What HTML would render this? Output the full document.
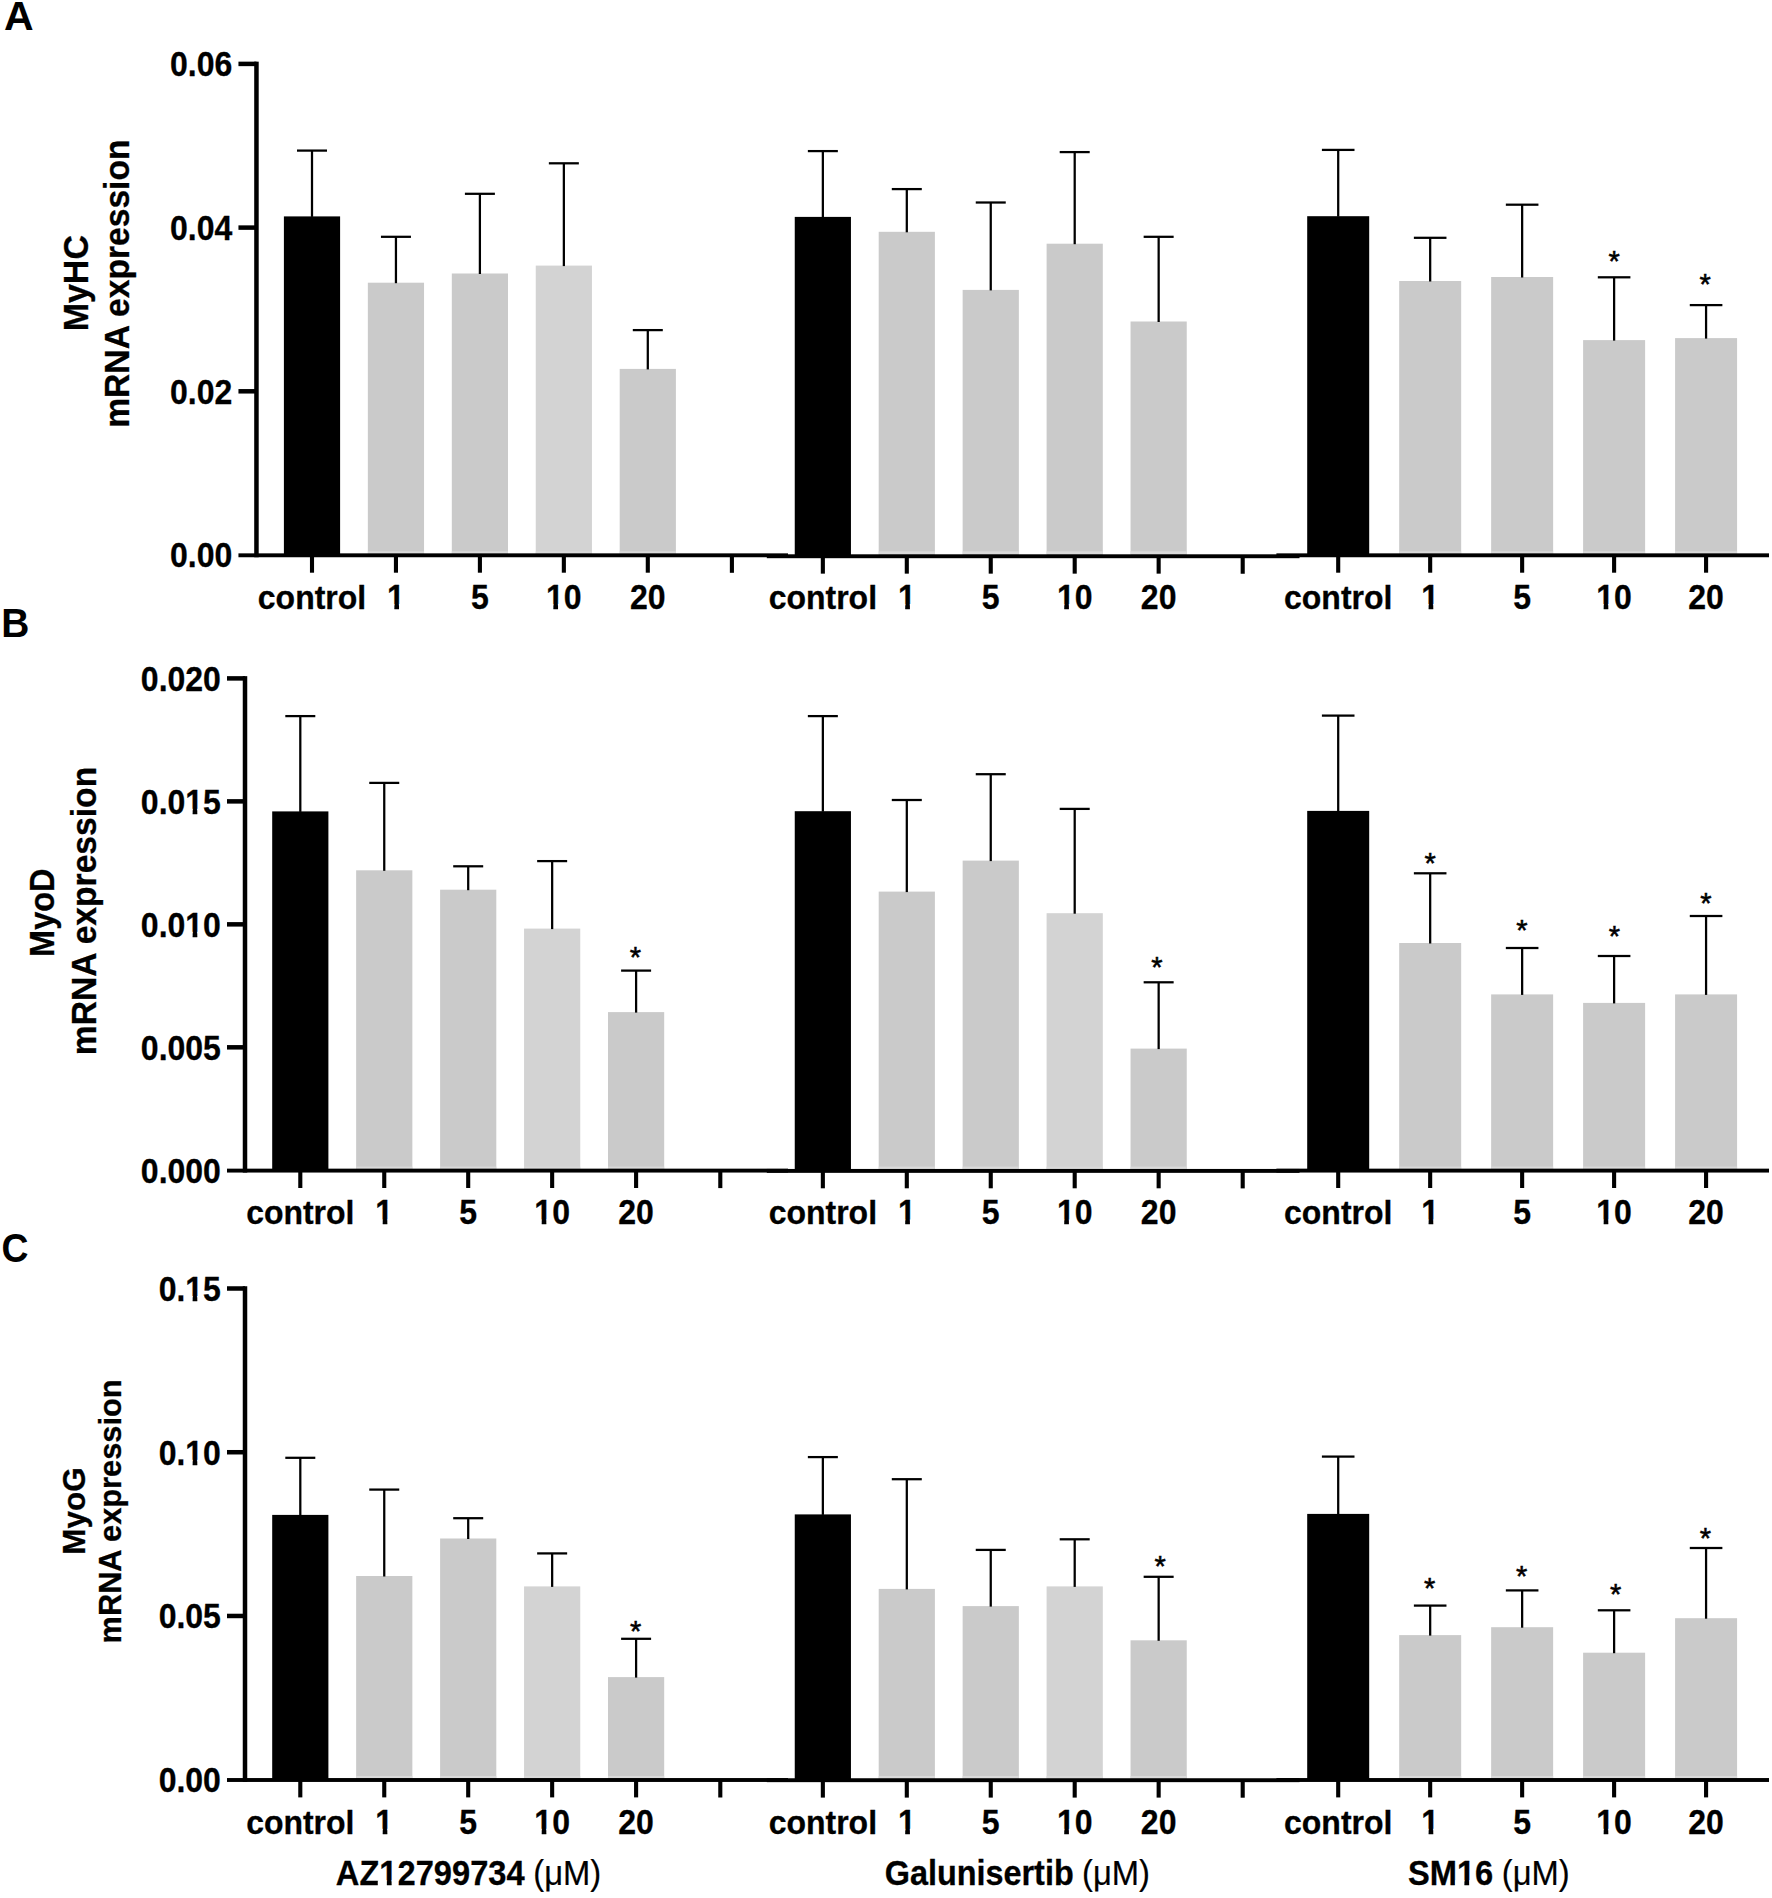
<!DOCTYPE html>
<html lang="en"><head><meta charset="utf-8"><title>Figure</title>
<style>html,body{margin:0;padding:0;background:#fff}svg{display:block}text{font-family:"Liberation Sans",Arial,Helvetica,sans-serif}</style>
</head><body>
<svg width="1772" height="1898" viewBox="0 0 1772 1898" font-family="Liberation Sans, Arial, Helvetica, sans-serif" fill="#000">
<rect width="1772" height="1898" fill="#fff"/>
<rect x="283.90" y="216.40" width="56.20" height="338.60" fill="#000"/>
<rect x="310.88" y="150.60" width="2.25" height="66.30" fill="#000"/>
<rect x="297.00" y="149.47" width="30.00" height="2.25" fill="#000"/>
<rect x="367.85" y="282.70" width="56.20" height="272.30" fill="#cacaca"/>
<rect x="367.85" y="551.30" width="56.20" height="2.70" fill="#dadada"/>
<rect x="394.82" y="236.80" width="2.25" height="46.40" fill="#000"/>
<rect x="380.95" y="235.68" width="30.00" height="2.25" fill="#000"/>
<rect x="451.80" y="273.50" width="56.20" height="281.50" fill="#cacaca"/>
<rect x="451.80" y="551.30" width="56.20" height="2.70" fill="#dadada"/>
<rect x="478.77" y="193.80" width="2.25" height="80.20" fill="#000"/>
<rect x="464.90" y="192.68" width="30.00" height="2.25" fill="#000"/>
<rect x="535.75" y="265.60" width="56.20" height="289.40" fill="#d3d3d3"/>
<rect x="535.75" y="551.30" width="56.20" height="2.70" fill="#dadada"/>
<rect x="562.73" y="163.30" width="2.25" height="102.80" fill="#000"/>
<rect x="548.85" y="162.18" width="30.00" height="2.25" fill="#000"/>
<rect x="619.70" y="368.90" width="56.20" height="186.10" fill="#cacaca"/>
<rect x="619.70" y="551.30" width="56.20" height="2.70" fill="#dadada"/>
<rect x="646.67" y="330.10" width="2.25" height="39.30" fill="#000"/>
<rect x="632.80" y="328.98" width="30.00" height="2.25" fill="#000"/>
<rect x="794.75" y="216.90" width="56.20" height="338.10" fill="#000"/>
<rect x="821.73" y="151.10" width="2.25" height="66.30" fill="#000"/>
<rect x="807.85" y="149.97" width="30.00" height="2.25" fill="#000"/>
<rect x="878.70" y="231.80" width="56.20" height="323.20" fill="#cacaca"/>
<rect x="878.70" y="551.30" width="56.20" height="2.70" fill="#dadada"/>
<rect x="905.68" y="189.10" width="2.25" height="43.20" fill="#000"/>
<rect x="891.80" y="187.97" width="30.00" height="2.25" fill="#000"/>
<rect x="962.65" y="289.90" width="56.20" height="265.10" fill="#cacaca"/>
<rect x="962.65" y="551.30" width="56.20" height="2.70" fill="#dadada"/>
<rect x="989.62" y="202.50" width="2.25" height="87.90" fill="#000"/>
<rect x="975.75" y="201.38" width="30.00" height="2.25" fill="#000"/>
<rect x="1046.60" y="243.70" width="56.20" height="311.30" fill="#cacaca"/>
<rect x="1046.60" y="551.30" width="56.20" height="2.70" fill="#dadada"/>
<rect x="1073.58" y="152.10" width="2.25" height="92.10" fill="#000"/>
<rect x="1059.70" y="150.97" width="30.00" height="2.25" fill="#000"/>
<rect x="1130.55" y="321.50" width="56.20" height="233.50" fill="#cacaca"/>
<rect x="1130.55" y="551.30" width="56.20" height="2.70" fill="#dadada"/>
<rect x="1157.53" y="236.80" width="2.25" height="85.20" fill="#000"/>
<rect x="1143.65" y="235.68" width="30.00" height="2.25" fill="#000"/>
<rect x="1307.20" y="216.20" width="62.00" height="338.80" fill="#000"/>
<rect x="1337.08" y="149.90" width="2.25" height="66.80" fill="#000"/>
<rect x="1321.90" y="148.78" width="32.60" height="2.25" fill="#000"/>
<rect x="1399.17" y="281.00" width="62.00" height="274.00" fill="#cacaca"/>
<rect x="1399.17" y="551.30" width="62.00" height="2.70" fill="#dadada"/>
<rect x="1429.05" y="237.80" width="2.25" height="43.70" fill="#000"/>
<rect x="1413.87" y="236.68" width="32.60" height="2.25" fill="#000"/>
<rect x="1491.14" y="277.00" width="62.00" height="278.00" fill="#cacaca"/>
<rect x="1491.14" y="551.30" width="62.00" height="2.70" fill="#dadada"/>
<rect x="1521.02" y="204.70" width="2.25" height="72.80" fill="#000"/>
<rect x="1505.84" y="203.57" width="32.60" height="2.25" fill="#000"/>
<rect x="1583.11" y="340.10" width="62.00" height="214.90" fill="#cacaca"/>
<rect x="1583.11" y="551.30" width="62.00" height="2.70" fill="#dadada"/>
<rect x="1612.99" y="277.30" width="2.25" height="63.30" fill="#000"/>
<rect x="1597.81" y="276.18" width="32.60" height="2.25" fill="#000"/>
<g transform="translate(1614.20,270.86) scale(1.0000,1)"><text font-size="29.0" font-weight="normal" text-anchor="middle" stroke="#000" stroke-width="0.55" >*</text></g>
<rect x="1675.08" y="338.10" width="62.00" height="216.90" fill="#cacaca"/>
<rect x="1675.08" y="551.30" width="62.00" height="2.70" fill="#dadada"/>
<rect x="1704.95" y="305.10" width="2.25" height="33.50" fill="#000"/>
<rect x="1689.78" y="303.98" width="32.60" height="2.25" fill="#000"/>
<g transform="translate(1705.10,293.76) scale(1.0000,1)"><text font-size="29.0" font-weight="normal" text-anchor="middle" stroke="#000" stroke-width="0.55" >*</text></g>
<rect x="254.20" y="61.65" width="4.50" height="495.60" fill="#000"/>
<rect x="238.45" y="61.65" width="18.00" height="4.50" fill="#000"/>
<g transform="translate(232.35,76.20) scale(0.9330,1)"><text font-size="34.3" font-weight="bold" text-anchor="end" stroke="#000" stroke-width="0.3" >0.06</text></g>
<rect x="238.45" y="225.35" width="18.00" height="4.50" fill="#000"/>
<g transform="translate(232.35,239.90) scale(0.9330,1)"><text font-size="34.3" font-weight="bold" text-anchor="end" stroke="#000" stroke-width="0.3" >0.04</text></g>
<rect x="238.45" y="389.05" width="18.00" height="4.50" fill="#000"/>
<g transform="translate(232.35,403.60) scale(0.9330,1)"><text font-size="34.3" font-weight="bold" text-anchor="end" stroke="#000" stroke-width="0.3" >0.02</text></g>
<g transform="translate(232.35,567.30) scale(0.9330,1)"><text font-size="34.3" font-weight="bold" text-anchor="end" stroke="#000" stroke-width="0.3" >0.00</text></g>
<rect x="238.45" y="553.35" width="549.55" height="3.90" fill="#000"/>
<rect x="766.80" y="554.30" width="532.70" height="3.90" fill="#000"/>
<rect x="1276.40" y="553.35" width="492.60" height="3.90" fill="#000"/>
<rect x="309.95" y="555.00" width="4.10" height="17.70" fill="#000"/>
<g transform="translate(312.00,609.00) scale(0.9870,1)"><text font-size="32.4" font-weight="bold" text-anchor="middle" stroke="#000" stroke-width="0.3" >control</text></g>
<rect x="393.90" y="555.00" width="4.10" height="17.70" fill="#000"/>
<g transform="translate(395.95,609.00) scale(0.9330,1)"><clipPath id="c1"><path clip-rule="evenodd" d="M-19.54,-41.16H19.54V17.15H-19.54ZM-11.21,-4.90H-1.67V3.00H-11.21ZM3.31,-4.90H10.48V3.00H3.31Z"/></clipPath><text clip-path="url(#c1)" font-size="34.3" font-weight="bold" text-anchor="middle" stroke="#000" stroke-width="0.3" >1</text></g>
<rect x="477.85" y="555.00" width="4.10" height="17.70" fill="#000"/>
<g transform="translate(479.90,609.00) scale(0.9330,1)"><text font-size="34.3" font-weight="bold" text-anchor="middle" stroke="#000" stroke-width="0.3" >5</text></g>
<rect x="561.80" y="555.00" width="4.10" height="17.70" fill="#000"/>
<g transform="translate(563.85,609.00) scale(0.9330,1)"><clipPath id="c2"><path clip-rule="evenodd" d="M-29.08,-41.16H29.08V17.15H-29.08ZM-20.75,-4.90H-11.20V3.00H-20.75ZM-6.23,-4.90H0.94V3.00H-6.23Z"/></clipPath><text clip-path="url(#c2)" font-size="34.3" font-weight="bold" text-anchor="middle" stroke="#000" stroke-width="0.3" >10</text></g>
<rect x="645.75" y="555.00" width="4.10" height="17.70" fill="#000"/>
<g transform="translate(647.80,609.00) scale(0.9330,1)"><text font-size="34.3" font-weight="bold" text-anchor="middle" stroke="#000" stroke-width="0.3" >20</text></g>
<rect x="820.80" y="555.00" width="4.10" height="18.65" fill="#000"/>
<g transform="translate(822.85,609.00) scale(0.9870,1)"><text font-size="32.4" font-weight="bold" text-anchor="middle" stroke="#000" stroke-width="0.3" >control</text></g>
<rect x="904.75" y="555.00" width="4.10" height="18.65" fill="#000"/>
<g transform="translate(906.80,609.00) scale(0.9330,1)"><clipPath id="c3"><path clip-rule="evenodd" d="M-19.54,-41.16H19.54V17.15H-19.54ZM-11.21,-4.90H-1.67V3.00H-11.21ZM3.31,-4.90H10.48V3.00H3.31Z"/></clipPath><text clip-path="url(#c3)" font-size="34.3" font-weight="bold" text-anchor="middle" stroke="#000" stroke-width="0.3" >1</text></g>
<rect x="988.70" y="555.00" width="4.10" height="18.65" fill="#000"/>
<g transform="translate(990.75,609.00) scale(0.9330,1)"><text font-size="34.3" font-weight="bold" text-anchor="middle" stroke="#000" stroke-width="0.3" >5</text></g>
<rect x="1072.65" y="555.00" width="4.10" height="18.65" fill="#000"/>
<g transform="translate(1074.70,609.00) scale(0.9330,1)"><clipPath id="c4"><path clip-rule="evenodd" d="M-29.08,-41.16H29.08V17.15H-29.08ZM-20.75,-4.90H-11.20V3.00H-20.75ZM-6.23,-4.90H0.94V3.00H-6.23Z"/></clipPath><text clip-path="url(#c4)" font-size="34.3" font-weight="bold" text-anchor="middle" stroke="#000" stroke-width="0.3" >10</text></g>
<rect x="1156.60" y="555.00" width="4.10" height="18.65" fill="#000"/>
<g transform="translate(1158.65,609.00) scale(0.9330,1)"><text font-size="34.3" font-weight="bold" text-anchor="middle" stroke="#000" stroke-width="0.3" >20</text></g>
<rect x="1336.15" y="555.00" width="4.10" height="17.70" fill="#000"/>
<g transform="translate(1338.20,609.00) scale(0.9870,1)"><text font-size="32.4" font-weight="bold" text-anchor="middle" stroke="#000" stroke-width="0.3" >control</text></g>
<rect x="1428.12" y="555.00" width="4.10" height="17.70" fill="#000"/>
<g transform="translate(1430.17,609.00) scale(0.9330,1)"><clipPath id="c5"><path clip-rule="evenodd" d="M-19.54,-41.16H19.54V17.15H-19.54ZM-11.21,-4.90H-1.67V3.00H-11.21ZM3.31,-4.90H10.48V3.00H3.31Z"/></clipPath><text clip-path="url(#c5)" font-size="34.3" font-weight="bold" text-anchor="middle" stroke="#000" stroke-width="0.3" >1</text></g>
<rect x="1520.09" y="555.00" width="4.10" height="17.70" fill="#000"/>
<g transform="translate(1522.14,609.00) scale(0.9330,1)"><text font-size="34.3" font-weight="bold" text-anchor="middle" stroke="#000" stroke-width="0.3" >5</text></g>
<rect x="1612.06" y="555.00" width="4.10" height="17.70" fill="#000"/>
<g transform="translate(1614.11,609.00) scale(0.9330,1)"><clipPath id="c6"><path clip-rule="evenodd" d="M-29.08,-41.16H29.08V17.15H-29.08ZM-20.75,-4.90H-11.20V3.00H-20.75ZM-6.23,-4.90H0.94V3.00H-6.23Z"/></clipPath><text clip-path="url(#c6)" font-size="34.3" font-weight="bold" text-anchor="middle" stroke="#000" stroke-width="0.3" >10</text></g>
<rect x="1704.03" y="555.00" width="4.10" height="17.70" fill="#000"/>
<g transform="translate(1706.08,609.00) scale(0.9330,1)"><text font-size="34.3" font-weight="bold" text-anchor="middle" stroke="#000" stroke-width="0.3" >20</text></g>
<rect x="729.85" y="555.00" width="4.10" height="17.80" fill="#000"/>
<rect x="1240.65" y="555.00" width="4.10" height="18.75" fill="#000"/>
<g transform="translate(4.00,30.40) scale(1.0000,1)"><text font-size="41" font-weight="bold" text-anchor="start" >A</text></g>
<text transform="translate(87.6,283.2) rotate(-90) scale(0.9700,1)" font-size="35.0" font-weight="bold" text-anchor="middle" stroke="#000" stroke-width="0.3">MyHC</text>
<text transform="translate(129.0,283.65) rotate(-90) scale(0.9609,1)" font-size="35.0" font-weight="bold" text-anchor="middle" stroke="#000" stroke-width="0.3">mRNA expression</text>
<rect x="272.20" y="811.40" width="56.20" height="358.90" fill="#000"/>
<rect x="299.18" y="716.10" width="2.25" height="95.80" fill="#000"/>
<rect x="285.30" y="714.98" width="30.00" height="2.25" fill="#000"/>
<rect x="356.15" y="870.30" width="56.20" height="300.00" fill="#cacaca"/>
<rect x="356.15" y="1166.60" width="56.20" height="2.70" fill="#dadada"/>
<rect x="383.12" y="782.90" width="2.25" height="87.90" fill="#000"/>
<rect x="369.25" y="781.77" width="30.00" height="2.25" fill="#000"/>
<rect x="440.10" y="889.70" width="56.20" height="280.60" fill="#cacaca"/>
<rect x="440.10" y="1166.60" width="56.20" height="2.70" fill="#dadada"/>
<rect x="467.08" y="866.30" width="2.25" height="23.90" fill="#000"/>
<rect x="453.20" y="865.17" width="30.00" height="2.25" fill="#000"/>
<rect x="524.05" y="928.60" width="56.20" height="241.70" fill="#d3d3d3"/>
<rect x="524.05" y="1166.60" width="56.20" height="2.70" fill="#dadada"/>
<rect x="551.03" y="861.10" width="2.25" height="68.00" fill="#000"/>
<rect x="537.15" y="859.98" width="30.00" height="2.25" fill="#000"/>
<rect x="608.00" y="1012.10" width="56.20" height="158.20" fill="#cacaca"/>
<rect x="608.00" y="1166.60" width="56.20" height="2.70" fill="#dadada"/>
<rect x="634.98" y="970.60" width="2.25" height="42.00" fill="#000"/>
<rect x="621.10" y="969.48" width="30.00" height="2.25" fill="#000"/>
<g transform="translate(635.40,966.56) scale(1.0000,1)"><text font-size="29.0" font-weight="normal" text-anchor="middle" stroke="#000" stroke-width="0.55" >*</text></g>
<rect x="794.75" y="811.20" width="56.20" height="359.10" fill="#000"/>
<rect x="821.73" y="716.10" width="2.25" height="95.60" fill="#000"/>
<rect x="807.85" y="714.98" width="30.00" height="2.25" fill="#000"/>
<rect x="878.70" y="891.60" width="56.20" height="278.70" fill="#cacaca"/>
<rect x="878.70" y="1166.60" width="56.20" height="2.70" fill="#dadada"/>
<rect x="905.68" y="800.00" width="2.25" height="92.10" fill="#000"/>
<rect x="891.80" y="798.88" width="30.00" height="2.25" fill="#000"/>
<rect x="962.65" y="860.60" width="56.20" height="309.70" fill="#cacaca"/>
<rect x="962.65" y="1166.60" width="56.20" height="2.70" fill="#dadada"/>
<rect x="989.62" y="774.20" width="2.25" height="86.90" fill="#000"/>
<rect x="975.75" y="773.08" width="30.00" height="2.25" fill="#000"/>
<rect x="1046.60" y="913.20" width="56.20" height="257.10" fill="#d3d3d3"/>
<rect x="1046.60" y="1166.60" width="56.20" height="2.70" fill="#dadada"/>
<rect x="1073.58" y="808.90" width="2.25" height="104.80" fill="#000"/>
<rect x="1059.70" y="807.77" width="30.00" height="2.25" fill="#000"/>
<rect x="1130.55" y="1048.60" width="56.20" height="121.70" fill="#cacaca"/>
<rect x="1130.55" y="1166.60" width="56.20" height="2.70" fill="#dadada"/>
<rect x="1157.53" y="982.30" width="2.25" height="66.80" fill="#000"/>
<rect x="1143.65" y="981.17" width="30.00" height="2.25" fill="#000"/>
<g transform="translate(1156.90,977.06) scale(1.0000,1)"><text font-size="29.0" font-weight="normal" text-anchor="middle" stroke="#000" stroke-width="0.55" >*</text></g>
<rect x="1307.20" y="810.90" width="62.00" height="359.40" fill="#000"/>
<rect x="1337.08" y="715.60" width="2.25" height="95.80" fill="#000"/>
<rect x="1321.90" y="714.48" width="32.60" height="2.25" fill="#000"/>
<rect x="1399.17" y="943.00" width="62.00" height="227.30" fill="#cacaca"/>
<rect x="1399.17" y="1166.60" width="62.00" height="2.70" fill="#dadada"/>
<rect x="1429.05" y="873.30" width="2.25" height="70.20" fill="#000"/>
<rect x="1413.87" y="872.17" width="32.60" height="2.25" fill="#000"/>
<g transform="translate(1430.10,872.86) scale(1.0000,1)"><text font-size="29.0" font-weight="normal" text-anchor="middle" stroke="#000" stroke-width="0.55" >*</text></g>
<rect x="1491.14" y="994.40" width="62.00" height="175.90" fill="#cacaca"/>
<rect x="1491.14" y="1166.60" width="62.00" height="2.70" fill="#dadada"/>
<rect x="1521.02" y="948.00" width="2.25" height="46.90" fill="#000"/>
<rect x="1505.84" y="946.88" width="32.60" height="2.25" fill="#000"/>
<g transform="translate(1522.00,939.76) scale(1.0000,1)"><text font-size="29.0" font-weight="normal" text-anchor="middle" stroke="#000" stroke-width="0.55" >*</text></g>
<rect x="1583.11" y="1002.90" width="62.00" height="167.40" fill="#cacaca"/>
<rect x="1583.11" y="1166.60" width="62.00" height="2.70" fill="#dadada"/>
<rect x="1612.99" y="956.00" width="2.25" height="47.40" fill="#000"/>
<rect x="1597.81" y="954.88" width="32.60" height="2.25" fill="#000"/>
<g transform="translate(1614.30,945.96) scale(1.0000,1)"><text font-size="29.0" font-weight="normal" text-anchor="middle" stroke="#000" stroke-width="0.55" >*</text></g>
<rect x="1675.08" y="994.40" width="62.00" height="175.90" fill="#cacaca"/>
<rect x="1675.08" y="1166.60" width="62.00" height="2.70" fill="#dadada"/>
<rect x="1704.95" y="916.00" width="2.25" height="78.90" fill="#000"/>
<rect x="1689.78" y="914.88" width="32.60" height="2.25" fill="#000"/>
<g transform="translate(1705.80,912.76) scale(1.0000,1)"><text font-size="29.0" font-weight="normal" text-anchor="middle" stroke="#000" stroke-width="0.55" >*</text></g>
<rect x="242.75" y="676.15" width="4.50" height="496.40" fill="#000"/>
<rect x="227.00" y="676.15" width="18.00" height="4.50" fill="#000"/>
<g transform="translate(220.90,690.70) scale(0.9330,1)"><text font-size="34.3" font-weight="bold" text-anchor="end" stroke="#000" stroke-width="0.3" >0.020</text></g>
<rect x="227.00" y="799.12" width="18.00" height="4.50" fill="#000"/>
<g transform="translate(220.90,813.67) scale(0.9330,1)"><clipPath id="c7"><path clip-rule="evenodd" d="M-95.83,-41.16H10.00V17.15H-95.83ZM-39.83,-4.90H-30.28V3.00H-39.83ZM-25.31,-4.90H-18.14V3.00H-25.31Z"/></clipPath><text clip-path="url(#c7)" font-size="34.3" font-weight="bold" text-anchor="end" stroke="#000" stroke-width="0.3" >0.015</text></g>
<rect x="227.00" y="922.10" width="18.00" height="4.50" fill="#000"/>
<g transform="translate(220.90,936.65) scale(0.9330,1)"><clipPath id="c8"><path clip-rule="evenodd" d="M-95.83,-41.16H10.00V17.15H-95.83ZM-39.83,-4.90H-30.28V3.00H-39.83ZM-25.31,-4.90H-18.14V3.00H-25.31Z"/></clipPath><text clip-path="url(#c8)" font-size="34.3" font-weight="bold" text-anchor="end" stroke="#000" stroke-width="0.3" >0.010</text></g>
<rect x="227.00" y="1045.07" width="18.00" height="4.50" fill="#000"/>
<g transform="translate(220.90,1059.62) scale(0.9330,1)"><text font-size="34.3" font-weight="bold" text-anchor="end" stroke="#000" stroke-width="0.3" >0.005</text></g>
<g transform="translate(220.90,1182.60) scale(0.9330,1)"><text font-size="34.3" font-weight="bold" text-anchor="end" stroke="#000" stroke-width="0.3" >0.000</text></g>
<rect x="227.00" y="1168.65" width="561.00" height="3.90" fill="#000"/>
<rect x="766.80" y="1168.95" width="532.70" height="3.90" fill="#000"/>
<rect x="1276.40" y="1168.65" width="492.60" height="3.90" fill="#000"/>
<rect x="298.25" y="1170.30" width="4.10" height="17.70" fill="#000"/>
<g transform="translate(300.30,1224.30) scale(0.9870,1)"><text font-size="32.4" font-weight="bold" text-anchor="middle" stroke="#000" stroke-width="0.3" >control</text></g>
<rect x="382.20" y="1170.30" width="4.10" height="17.70" fill="#000"/>
<g transform="translate(384.25,1224.30) scale(0.9330,1)"><clipPath id="c9"><path clip-rule="evenodd" d="M-19.54,-41.16H19.54V17.15H-19.54ZM-11.21,-4.90H-1.67V3.00H-11.21ZM3.31,-4.90H10.48V3.00H3.31Z"/></clipPath><text clip-path="url(#c9)" font-size="34.3" font-weight="bold" text-anchor="middle" stroke="#000" stroke-width="0.3" >1</text></g>
<rect x="466.15" y="1170.30" width="4.10" height="17.70" fill="#000"/>
<g transform="translate(468.20,1224.30) scale(0.9330,1)"><text font-size="34.3" font-weight="bold" text-anchor="middle" stroke="#000" stroke-width="0.3" >5</text></g>
<rect x="550.10" y="1170.30" width="4.10" height="17.70" fill="#000"/>
<g transform="translate(552.15,1224.30) scale(0.9330,1)"><clipPath id="c10"><path clip-rule="evenodd" d="M-29.08,-41.16H29.08V17.15H-29.08ZM-20.75,-4.90H-11.20V3.00H-20.75ZM-6.23,-4.90H0.94V3.00H-6.23Z"/></clipPath><text clip-path="url(#c10)" font-size="34.3" font-weight="bold" text-anchor="middle" stroke="#000" stroke-width="0.3" >10</text></g>
<rect x="634.05" y="1170.30" width="4.10" height="17.70" fill="#000"/>
<g transform="translate(636.10,1224.30) scale(0.9330,1)"><text font-size="34.3" font-weight="bold" text-anchor="middle" stroke="#000" stroke-width="0.3" >20</text></g>
<rect x="820.80" y="1170.30" width="4.10" height="18.00" fill="#000"/>
<g transform="translate(822.85,1224.30) scale(0.9870,1)"><text font-size="32.4" font-weight="bold" text-anchor="middle" stroke="#000" stroke-width="0.3" >control</text></g>
<rect x="904.75" y="1170.30" width="4.10" height="18.00" fill="#000"/>
<g transform="translate(906.80,1224.30) scale(0.9330,1)"><clipPath id="c11"><path clip-rule="evenodd" d="M-19.54,-41.16H19.54V17.15H-19.54ZM-11.21,-4.90H-1.67V3.00H-11.21ZM3.31,-4.90H10.48V3.00H3.31Z"/></clipPath><text clip-path="url(#c11)" font-size="34.3" font-weight="bold" text-anchor="middle" stroke="#000" stroke-width="0.3" >1</text></g>
<rect x="988.70" y="1170.30" width="4.10" height="18.00" fill="#000"/>
<g transform="translate(990.75,1224.30) scale(0.9330,1)"><text font-size="34.3" font-weight="bold" text-anchor="middle" stroke="#000" stroke-width="0.3" >5</text></g>
<rect x="1072.65" y="1170.30" width="4.10" height="18.00" fill="#000"/>
<g transform="translate(1074.70,1224.30) scale(0.9330,1)"><clipPath id="c12"><path clip-rule="evenodd" d="M-29.08,-41.16H29.08V17.15H-29.08ZM-20.75,-4.90H-11.20V3.00H-20.75ZM-6.23,-4.90H0.94V3.00H-6.23Z"/></clipPath><text clip-path="url(#c12)" font-size="34.3" font-weight="bold" text-anchor="middle" stroke="#000" stroke-width="0.3" >10</text></g>
<rect x="1156.60" y="1170.30" width="4.10" height="18.00" fill="#000"/>
<g transform="translate(1158.65,1224.30) scale(0.9330,1)"><text font-size="34.3" font-weight="bold" text-anchor="middle" stroke="#000" stroke-width="0.3" >20</text></g>
<rect x="1336.15" y="1170.30" width="4.10" height="17.70" fill="#000"/>
<g transform="translate(1338.20,1224.30) scale(0.9870,1)"><text font-size="32.4" font-weight="bold" text-anchor="middle" stroke="#000" stroke-width="0.3" >control</text></g>
<rect x="1428.12" y="1170.30" width="4.10" height="17.70" fill="#000"/>
<g transform="translate(1430.17,1224.30) scale(0.9330,1)"><clipPath id="c13"><path clip-rule="evenodd" d="M-19.54,-41.16H19.54V17.15H-19.54ZM-11.21,-4.90H-1.67V3.00H-11.21ZM3.31,-4.90H10.48V3.00H3.31Z"/></clipPath><text clip-path="url(#c13)" font-size="34.3" font-weight="bold" text-anchor="middle" stroke="#000" stroke-width="0.3" >1</text></g>
<rect x="1520.09" y="1170.30" width="4.10" height="17.70" fill="#000"/>
<g transform="translate(1522.14,1224.30) scale(0.9330,1)"><text font-size="34.3" font-weight="bold" text-anchor="middle" stroke="#000" stroke-width="0.3" >5</text></g>
<rect x="1612.06" y="1170.30" width="4.10" height="17.70" fill="#000"/>
<g transform="translate(1614.11,1224.30) scale(0.9330,1)"><clipPath id="c14"><path clip-rule="evenodd" d="M-29.08,-41.16H29.08V17.15H-29.08ZM-20.75,-4.90H-11.20V3.00H-20.75ZM-6.23,-4.90H0.94V3.00H-6.23Z"/></clipPath><text clip-path="url(#c14)" font-size="34.3" font-weight="bold" text-anchor="middle" stroke="#000" stroke-width="0.3" >10</text></g>
<rect x="1704.03" y="1170.30" width="4.10" height="17.70" fill="#000"/>
<g transform="translate(1706.08,1224.30) scale(0.9330,1)"><text font-size="34.3" font-weight="bold" text-anchor="middle" stroke="#000" stroke-width="0.3" >20</text></g>
<rect x="718.25" y="1170.30" width="4.10" height="17.80" fill="#000"/>
<rect x="1240.65" y="1170.30" width="4.10" height="18.10" fill="#000"/>
<g transform="translate(1.30,636.60) scale(0.9500,1)"><text font-size="41" font-weight="bold" text-anchor="start" >B</text></g>
<text transform="translate(54.1,912.7) rotate(-90) scale(0.9289,1)" font-size="35.0" font-weight="bold" text-anchor="middle" stroke="#000" stroke-width="0.3">MyoD</text>
<text transform="translate(95.5,911.0) rotate(-90) scale(0.9609,1)" font-size="35.0" font-weight="bold" text-anchor="middle" stroke="#000" stroke-width="0.3">mRNA expression</text>
<rect x="272.20" y="1514.90" width="56.20" height="264.80" fill="#000"/>
<rect x="299.18" y="1457.80" width="2.25" height="57.60" fill="#000"/>
<rect x="285.30" y="1456.67" width="30.00" height="2.25" fill="#000"/>
<rect x="356.15" y="1576.00" width="56.20" height="203.70" fill="#cacaca"/>
<rect x="356.15" y="1776.00" width="56.20" height="2.70" fill="#dadada"/>
<rect x="383.12" y="1489.60" width="2.25" height="86.90" fill="#000"/>
<rect x="369.25" y="1488.47" width="30.00" height="2.25" fill="#000"/>
<rect x="440.10" y="1538.50" width="56.20" height="241.20" fill="#cacaca"/>
<rect x="440.10" y="1776.00" width="56.20" height="2.70" fill="#dadada"/>
<rect x="467.08" y="1518.20" width="2.25" height="20.80" fill="#000"/>
<rect x="453.20" y="1517.08" width="30.00" height="2.25" fill="#000"/>
<rect x="524.05" y="1586.40" width="56.20" height="193.30" fill="#d3d3d3"/>
<rect x="524.05" y="1776.00" width="56.20" height="2.70" fill="#dadada"/>
<rect x="551.03" y="1553.40" width="2.25" height="33.50" fill="#000"/>
<rect x="537.15" y="1552.28" width="30.00" height="2.25" fill="#000"/>
<rect x="608.00" y="1677.10" width="56.20" height="102.60" fill="#cacaca"/>
<rect x="608.00" y="1776.00" width="56.20" height="2.70" fill="#dadada"/>
<rect x="634.98" y="1638.80" width="2.25" height="38.80" fill="#000"/>
<rect x="621.10" y="1637.67" width="30.00" height="2.25" fill="#000"/>
<g transform="translate(635.70,1640.66) scale(1.0000,1)"><text font-size="29.0" font-weight="normal" text-anchor="middle" stroke="#000" stroke-width="0.55" >*</text></g>
<rect x="794.75" y="1514.40" width="56.20" height="265.30" fill="#000"/>
<rect x="821.73" y="1457.10" width="2.25" height="57.80" fill="#000"/>
<rect x="807.85" y="1455.97" width="30.00" height="2.25" fill="#000"/>
<rect x="878.70" y="1588.90" width="56.20" height="190.80" fill="#cacaca"/>
<rect x="878.70" y="1776.00" width="56.20" height="2.70" fill="#dadada"/>
<rect x="905.68" y="1479.20" width="2.25" height="110.20" fill="#000"/>
<rect x="891.80" y="1478.08" width="30.00" height="2.25" fill="#000"/>
<rect x="962.65" y="1606.10" width="56.20" height="173.60" fill="#cacaca"/>
<rect x="962.65" y="1776.00" width="56.20" height="2.70" fill="#dadada"/>
<rect x="989.62" y="1549.90" width="2.25" height="56.70" fill="#000"/>
<rect x="975.75" y="1548.78" width="30.00" height="2.25" fill="#000"/>
<rect x="1046.60" y="1586.40" width="56.20" height="193.30" fill="#d3d3d3"/>
<rect x="1046.60" y="1776.00" width="56.20" height="2.70" fill="#dadada"/>
<rect x="1073.58" y="1539.30" width="2.25" height="47.60" fill="#000"/>
<rect x="1059.70" y="1538.17" width="30.00" height="2.25" fill="#000"/>
<rect x="1130.55" y="1640.30" width="56.20" height="139.40" fill="#cacaca"/>
<rect x="1130.55" y="1776.00" width="56.20" height="2.70" fill="#dadada"/>
<rect x="1157.53" y="1576.80" width="2.25" height="64.00" fill="#000"/>
<rect x="1143.65" y="1575.67" width="30.00" height="2.25" fill="#000"/>
<g transform="translate(1160.20,1575.91) scale(1.0000,1)"><text font-size="29.0" font-weight="normal" text-anchor="middle" stroke="#000" stroke-width="0.55" >*</text></g>
<rect x="1307.20" y="1513.90" width="62.00" height="265.80" fill="#000"/>
<rect x="1337.08" y="1456.60" width="2.25" height="57.80" fill="#000"/>
<rect x="1321.90" y="1455.47" width="32.60" height="2.25" fill="#000"/>
<rect x="1399.17" y="1635.10" width="62.00" height="144.60" fill="#cacaca"/>
<rect x="1399.17" y="1776.00" width="62.00" height="2.70" fill="#dadada"/>
<rect x="1429.05" y="1605.60" width="2.25" height="30.00" fill="#000"/>
<rect x="1413.87" y="1604.47" width="32.60" height="2.25" fill="#000"/>
<g transform="translate(1429.70,1598.16) scale(1.0000,1)"><text font-size="29.0" font-weight="normal" text-anchor="middle" stroke="#000" stroke-width="0.55" >*</text></g>
<rect x="1491.14" y="1627.20" width="62.00" height="152.50" fill="#cacaca"/>
<rect x="1491.14" y="1776.00" width="62.00" height="2.70" fill="#dadada"/>
<rect x="1521.02" y="1590.40" width="2.25" height="37.30" fill="#000"/>
<rect x="1505.84" y="1589.28" width="32.60" height="2.25" fill="#000"/>
<g transform="translate(1521.60,1586.06) scale(1.0000,1)"><text font-size="29.0" font-weight="normal" text-anchor="middle" stroke="#000" stroke-width="0.55" >*</text></g>
<rect x="1583.11" y="1652.70" width="62.00" height="127.00" fill="#cacaca"/>
<rect x="1583.11" y="1776.00" width="62.00" height="2.70" fill="#dadada"/>
<rect x="1612.99" y="1610.30" width="2.25" height="42.90" fill="#000"/>
<rect x="1597.81" y="1609.17" width="32.60" height="2.25" fill="#000"/>
<g transform="translate(1615.60,1603.76) scale(1.0000,1)"><text font-size="29.0" font-weight="normal" text-anchor="middle" stroke="#000" stroke-width="0.55" >*</text></g>
<rect x="1675.08" y="1618.20" width="62.00" height="161.50" fill="#cacaca"/>
<rect x="1675.08" y="1776.00" width="62.00" height="2.70" fill="#dadada"/>
<rect x="1704.95" y="1548.00" width="2.25" height="70.70" fill="#000"/>
<rect x="1689.78" y="1546.88" width="32.60" height="2.25" fill="#000"/>
<g transform="translate(1705.30,1548.36) scale(1.0000,1)"><text font-size="29.0" font-weight="normal" text-anchor="middle" stroke="#000" stroke-width="0.55" >*</text></g>
<rect x="242.75" y="1286.25" width="4.50" height="495.70" fill="#000"/>
<rect x="227.00" y="1286.25" width="18.00" height="4.50" fill="#000"/>
<g transform="translate(220.90,1300.80) scale(0.9330,1)"><clipPath id="c15"><path clip-rule="evenodd" d="M-76.76,-41.16H10.00V17.15H-76.76ZM-39.83,-4.90H-30.28V3.00H-39.83ZM-25.31,-4.90H-18.14V3.00H-25.31Z"/></clipPath><text clip-path="url(#c15)" font-size="34.3" font-weight="bold" text-anchor="end" stroke="#000" stroke-width="0.3" >0.15</text></g>
<rect x="227.00" y="1449.98" width="18.00" height="4.50" fill="#000"/>
<g transform="translate(220.90,1464.53) scale(0.9330,1)"><clipPath id="c16"><path clip-rule="evenodd" d="M-76.76,-41.16H10.00V17.15H-76.76ZM-39.83,-4.90H-30.28V3.00H-39.83ZM-25.31,-4.90H-18.14V3.00H-25.31Z"/></clipPath><text clip-path="url(#c16)" font-size="34.3" font-weight="bold" text-anchor="end" stroke="#000" stroke-width="0.3" >0.10</text></g>
<rect x="227.00" y="1613.72" width="18.00" height="4.50" fill="#000"/>
<g transform="translate(220.90,1628.27) scale(0.9330,1)"><text font-size="34.3" font-weight="bold" text-anchor="end" stroke="#000" stroke-width="0.3" >0.05</text></g>
<g transform="translate(220.90,1792.00) scale(0.9330,1)"><text font-size="34.3" font-weight="bold" text-anchor="end" stroke="#000" stroke-width="0.3" >0.00</text></g>
<rect x="227.00" y="1778.05" width="561.00" height="3.90" fill="#000"/>
<rect x="766.80" y="1778.25" width="532.70" height="3.90" fill="#000"/>
<rect x="1276.40" y="1778.05" width="492.60" height="3.90" fill="#000"/>
<rect x="298.25" y="1779.70" width="4.10" height="17.70" fill="#000"/>
<g transform="translate(300.30,1833.70) scale(0.9870,1)"><text font-size="32.4" font-weight="bold" text-anchor="middle" stroke="#000" stroke-width="0.3" >control</text></g>
<rect x="382.20" y="1779.70" width="4.10" height="17.70" fill="#000"/>
<g transform="translate(384.25,1833.70) scale(0.9330,1)"><clipPath id="c17"><path clip-rule="evenodd" d="M-19.54,-41.16H19.54V17.15H-19.54ZM-11.21,-4.90H-1.67V3.00H-11.21ZM3.31,-4.90H10.48V3.00H3.31Z"/></clipPath><text clip-path="url(#c17)" font-size="34.3" font-weight="bold" text-anchor="middle" stroke="#000" stroke-width="0.3" >1</text></g>
<rect x="466.15" y="1779.70" width="4.10" height="17.70" fill="#000"/>
<g transform="translate(468.20,1833.70) scale(0.9330,1)"><text font-size="34.3" font-weight="bold" text-anchor="middle" stroke="#000" stroke-width="0.3" >5</text></g>
<rect x="550.10" y="1779.70" width="4.10" height="17.70" fill="#000"/>
<g transform="translate(552.15,1833.70) scale(0.9330,1)"><clipPath id="c18"><path clip-rule="evenodd" d="M-29.08,-41.16H29.08V17.15H-29.08ZM-20.75,-4.90H-11.20V3.00H-20.75ZM-6.23,-4.90H0.94V3.00H-6.23Z"/></clipPath><text clip-path="url(#c18)" font-size="34.3" font-weight="bold" text-anchor="middle" stroke="#000" stroke-width="0.3" >10</text></g>
<rect x="634.05" y="1779.70" width="4.10" height="17.70" fill="#000"/>
<g transform="translate(636.10,1833.70) scale(0.9330,1)"><text font-size="34.3" font-weight="bold" text-anchor="middle" stroke="#000" stroke-width="0.3" >20</text></g>
<rect x="820.80" y="1779.70" width="4.10" height="17.90" fill="#000"/>
<g transform="translate(822.85,1833.70) scale(0.9870,1)"><text font-size="32.4" font-weight="bold" text-anchor="middle" stroke="#000" stroke-width="0.3" >control</text></g>
<rect x="904.75" y="1779.70" width="4.10" height="17.90" fill="#000"/>
<g transform="translate(906.80,1833.70) scale(0.9330,1)"><clipPath id="c19"><path clip-rule="evenodd" d="M-19.54,-41.16H19.54V17.15H-19.54ZM-11.21,-4.90H-1.67V3.00H-11.21ZM3.31,-4.90H10.48V3.00H3.31Z"/></clipPath><text clip-path="url(#c19)" font-size="34.3" font-weight="bold" text-anchor="middle" stroke="#000" stroke-width="0.3" >1</text></g>
<rect x="988.70" y="1779.70" width="4.10" height="17.90" fill="#000"/>
<g transform="translate(990.75,1833.70) scale(0.9330,1)"><text font-size="34.3" font-weight="bold" text-anchor="middle" stroke="#000" stroke-width="0.3" >5</text></g>
<rect x="1072.65" y="1779.70" width="4.10" height="17.90" fill="#000"/>
<g transform="translate(1074.70,1833.70) scale(0.9330,1)"><clipPath id="c20"><path clip-rule="evenodd" d="M-29.08,-41.16H29.08V17.15H-29.08ZM-20.75,-4.90H-11.20V3.00H-20.75ZM-6.23,-4.90H0.94V3.00H-6.23Z"/></clipPath><text clip-path="url(#c20)" font-size="34.3" font-weight="bold" text-anchor="middle" stroke="#000" stroke-width="0.3" >10</text></g>
<rect x="1156.60" y="1779.70" width="4.10" height="17.90" fill="#000"/>
<g transform="translate(1158.65,1833.70) scale(0.9330,1)"><text font-size="34.3" font-weight="bold" text-anchor="middle" stroke="#000" stroke-width="0.3" >20</text></g>
<rect x="1336.15" y="1779.70" width="4.10" height="17.70" fill="#000"/>
<g transform="translate(1338.20,1833.70) scale(0.9870,1)"><text font-size="32.4" font-weight="bold" text-anchor="middle" stroke="#000" stroke-width="0.3" >control</text></g>
<rect x="1428.12" y="1779.70" width="4.10" height="17.70" fill="#000"/>
<g transform="translate(1430.17,1833.70) scale(0.9330,1)"><clipPath id="c21"><path clip-rule="evenodd" d="M-19.54,-41.16H19.54V17.15H-19.54ZM-11.21,-4.90H-1.67V3.00H-11.21ZM3.31,-4.90H10.48V3.00H3.31Z"/></clipPath><text clip-path="url(#c21)" font-size="34.3" font-weight="bold" text-anchor="middle" stroke="#000" stroke-width="0.3" >1</text></g>
<rect x="1520.09" y="1779.70" width="4.10" height="17.70" fill="#000"/>
<g transform="translate(1522.14,1833.70) scale(0.9330,1)"><text font-size="34.3" font-weight="bold" text-anchor="middle" stroke="#000" stroke-width="0.3" >5</text></g>
<rect x="1612.06" y="1779.70" width="4.10" height="17.70" fill="#000"/>
<g transform="translate(1614.11,1833.70) scale(0.9330,1)"><clipPath id="c22"><path clip-rule="evenodd" d="M-29.08,-41.16H29.08V17.15H-29.08ZM-20.75,-4.90H-11.20V3.00H-20.75ZM-6.23,-4.90H0.94V3.00H-6.23Z"/></clipPath><text clip-path="url(#c22)" font-size="34.3" font-weight="bold" text-anchor="middle" stroke="#000" stroke-width="0.3" >10</text></g>
<rect x="1704.03" y="1779.70" width="4.10" height="17.70" fill="#000"/>
<g transform="translate(1706.08,1833.70) scale(0.9330,1)"><text font-size="34.3" font-weight="bold" text-anchor="middle" stroke="#000" stroke-width="0.3" >20</text></g>
<rect x="718.25" y="1779.70" width="4.10" height="17.80" fill="#000"/>
<rect x="1240.65" y="1779.70" width="4.10" height="18.00" fill="#000"/>
<g transform="translate(1.40,1261.60) scale(0.9000,1)"><text font-size="41.5" font-weight="bold" text-anchor="start" >C</text></g>
<text transform="translate(84.9,1511.05) rotate(-90) scale(0.9827,1)" font-size="32.0" font-weight="bold" text-anchor="middle" stroke="#000" stroke-width="0.3">MyoG</text>
<text transform="translate(120.6,1511.45) rotate(-90) scale(0.9625,1)" font-size="32.0" font-weight="bold" text-anchor="middle" stroke="#000" stroke-width="0.3">mRNA expression</text>
<g transform="translate(335.80,1885.20) scale(0.9126,1)"><clipPath id="c23"><path clip-rule="evenodd" d="M-10.00,-42.96H217.00V17.90H-10.00ZM45.97,-5.05H55.94V3.00H45.97ZM61.13,-5.05H68.61V3.00H61.13Z"/></clipPath><text clip-path="url(#c23)" font-size="35.8" font-weight="bold" text-anchor="start" stroke="#000" stroke-width="0.3" >AZ12799734</text></g>
<g transform="translate(533.30,1885.20) scale(0.9350,1)"><text font-size="35.0" font-weight="normal" text-anchor="start" stroke="#000" stroke-width="0.2" >(μM)</text></g>
<g transform="translate(884.70,1885.20) scale(0.9053,1)"><text font-size="35.8" font-weight="bold" text-anchor="start" stroke="#000" stroke-width="0.3" >Galunisertib</text></g>
<g transform="translate(1082.10,1885.20) scale(0.9350,1)"><text font-size="35.0" font-weight="normal" text-anchor="start" stroke="#000" stroke-width="0.2" >(μM)</text></g>
<g transform="translate(1407.90,1885.20) scale(0.9126,1)"><clipPath id="c24"><path clip-rule="evenodd" d="M-10.00,-42.96H103.52V17.90H-10.00ZM51.95,-5.05H61.92V3.00H51.95ZM67.11,-5.05H74.59V3.00H67.11Z"/></clipPath><text clip-path="url(#c24)" font-size="35.8" font-weight="bold" text-anchor="start" stroke="#000" stroke-width="0.3" >SM16</text></g>
<g transform="translate(1501.80,1885.20) scale(0.9350,1)"><text font-size="35.0" font-weight="normal" text-anchor="start" stroke="#000" stroke-width="0.2" >(μM)</text></g>
</svg>
</body></html>
